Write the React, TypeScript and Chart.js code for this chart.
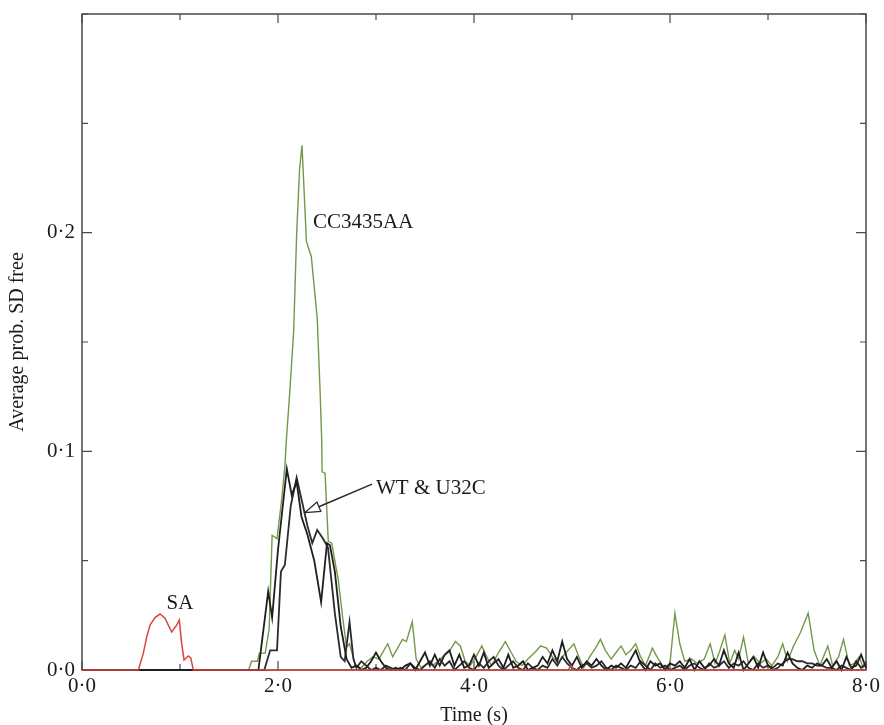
import React, { useEffect, useRef } from 'react';
import { Chart, registerables } from 'chart.js';

Chart.register(...registerables);

// [time (s), average probability]
const saPoints: [number, number][] = [
  [0, 0], [0.575, 0], [0.626, 0.0077], [0.66, 0.015], [0.694, 0.0205], [0.745, 0.024], [0.796, 0.0256],
  [0.847, 0.0237], [0.915, 0.0174], [0.966, 0.0205], [0.993, 0.0228], [1.017, 0.0122], [1.041, 0.0046],
  [1.085, 0.0064], [1.11, 0.0055], [1.136, 0], [4.96, 0], [4.99, 0.002], [5.02, 0], [8.0, 0],
];

const cc3435aaPoints: [number, number][] = [
  [0, 0], [1.70, 0], [1.73, 0.004], [1.79, 0.004], [1.81, 0.0077], [1.87, 0.0077], [1.91, 0.019],
  [1.94, 0.0616], [1.99, 0.060], [2.04, 0.079], [2.07, 0.093], [2.085, 0.105], [2.12, 0.127], [2.16, 0.155],
  [2.19, 0.199], [2.22, 0.229], [2.245, 0.240], [2.29, 0.196], [2.34, 0.189], [2.40, 0.161], [2.43, 0.127],
  [2.446, 0.105], [2.45, 0.0906], [2.48, 0.090], [2.513, 0.059], [2.548, 0.058], [2.616, 0.041], [2.66, 0.024],
  [2.70, 0.0105], [2.73, 0.012], [2.79, 0.002], [2.85, 0.001], [2.91, 0.004], [2.97, 0.006], [3.03, 0.005],
  [3.08, 0.009], [3.12, 0.012], [3.17, 0.006], [3.22, 0.010], [3.27, 0.014], [3.31, 0.013], [3.37, 0.022],
  [3.41, 0.005], [3.46, 0.001], [3.52, 0.003], [3.58, 0.002], [3.63, 0.004], [3.68, 0.006], [3.74, 0.008],
  [3.81, 0.013], [3.86, 0.011], [3.91, 0.004], [3.96, 0.002], [4.02, 0.006], [4.08, 0.011], [4.13, 0.006],
  [4.18, 0.002], [4.25, 0.008], [4.32, 0.013], [4.38, 0.008], [4.43, 0.004], [4.49, 0.002], [4.55, 0.005],
  [4.62, 0.008], [4.68, 0.011], [4.74, 0.010], [4.80, 0.006], [4.86, 0.003], [4.92, 0.007], [4.98, 0.010],
  [5.02, 0.012], [5.07, 0.006], [5.12, 0.001], [5.18, 0.006], [5.24, 0.010], [5.29, 0.014], [5.34, 0.009],
  [5.40, 0.005], [5.45, 0.008], [5.50, 0.011], [5.55, 0.007], [5.60, 0.009], [5.65, 0.012], [5.70, 0.006],
  [5.75, 0.002], [5.82, 0.010], [5.88, 0.005], [5.94, 0.001], [6.00, 0.003], [6.05, 0.026], [6.10, 0.012],
  [6.15, 0.004], [6.22, 0.005], [6.28, 0.003], [6.35, 0.005], [6.41, 0.012], [6.46, 0.003], [6.51, 0.009],
  [6.56, 0.016], [6.61, 0.003], [6.66, 0.009], [6.70, 0.005], [6.75, 0.015], [6.80, 0.003], [6.86, 0.006],
  [6.92, 0.003], [6.98, 0.005], [7.04, 0.002], [7.10, 0.006], [7.15, 0.012], [7.20, 0.004], [7.26, 0.011],
  [7.33, 0.017], [7.41, 0.026], [7.47, 0.009], [7.53, 0.002], [7.61, 0.011], [7.66, 0.002], [7.72, 0.006],
  [7.77, 0.014], [7.83, 0.002], [7.88, 0.003], [7.93, 0.006], [7.97, 0.001], [8.00, 0.003],
];

const wtPoints: [number, number][] = [
  [0, 0], [1.80, 0], [1.90, 0.036], [1.94, 0.024], [2.00, 0.055], [2.09, 0.092], [2.14, 0.080], [2.19, 0.086],
  [2.24, 0.070], [2.30, 0.062], [2.37, 0.050], [2.44, 0.031], [2.50, 0.058], [2.53, 0.057], [2.58, 0.045],
  [2.64, 0.020], [2.70, 0.005], [2.75, 0.001],
  [2.80, 0.002], [2.85, 0.000], [2.90, 0.001], [2.95, 0.004], [3.00, 0.008], [3.05, 0.004], [3.10, 0.001],
  [3.15, 0.000], [3.20, 0.001], [3.25, 0.000], [3.30, 0.002], [3.35, 0.003], [3.40, 0.000], [3.45, 0.004],
  [3.50, 0.008], [3.55, 0.002], [3.60, 0.007], [3.65, 0.002], [3.70, 0.007], [3.75, 0.009], [3.80, 0.002],
  [3.85, 0.007], [3.90, 0.001], [3.95, 0.002], [4.00, 0.007], [4.05, 0.002], [4.10, 0.008], [4.15, 0.001],
  [4.20, 0.003], [4.25, 0.005], [4.30, 0.001], [4.35, 0.007], [4.40, 0.001], [4.45, 0.002], [4.50, 0.004],
  [4.55, 0.000], [4.60, 0.001], [4.65, 0.002], [4.70, 0.006], [4.75, 0.003], [4.80, 0.009], [4.85, 0.004],
  [4.90, 0.013], [4.95, 0.005], [5.00, 0.002], [5.05, 0.006], [5.10, 0.001], [5.15, 0.004], [5.20, 0.002],
  [5.25, 0.005], [5.30, 0.002], [5.35, 0.000], [5.40, 0.002], [5.45, 0.001], [5.50, 0.003], [5.55, 0.001],
  [5.60, 0.005], [5.65, 0.009], [5.70, 0.003], [5.75, 0.000], [5.80, 0.004], [5.85, 0.002], [5.90, 0.003],
  [5.95, 0.000], [6.00, 0.003], [6.05, 0.002], [6.10, 0.004], [6.15, 0.001], [6.20, 0.005], [6.25, 0.000],
  [6.30, 0.004], [6.35, 0.001], [6.40, 0.002], [6.45, 0.005], [6.50, 0.002], [6.55, 0.009], [6.60, 0.003],
  [6.65, 0.001], [6.70, 0.008], [6.75, 0.000], [6.80, 0.003], [6.85, 0.006], [6.90, 0.001], [6.95, 0.008],
  [7.00, 0.002], [7.05, 0.001], [7.10, 0.003], [7.15, 0.002], [7.20, 0.008], [7.25, 0.003], [7.30, 0.001],
  [7.35, 0.000], [7.40, 0.002], [7.45, 0.001], [7.50, 0.003], [7.55, 0.002], [7.60, 0.005], [7.65, 0.001],
  [7.70, 0.004], [7.75, 0.000], [7.80, 0.006], [7.85, 0.001], [7.90, 0.002], [7.95, 0.007], [8.00, 0.001],
];

const u32cPoints: [number, number][] = [
  [0, 0], [1.86, 0], [1.92, 0.009], [1.99, 0.009], [2.03, 0.045], [2.07, 0.048], [2.13, 0.075], [2.19, 0.088],
  [2.25, 0.076], [2.30, 0.066], [2.35, 0.058], [2.40, 0.064], [2.46, 0.060], [2.51, 0.056], [2.58, 0.026],
  [2.64, 0.006], [2.68, 0.004], [2.73, 0.022], [2.77, 0.005],
  [2.80, 0.001], [2.85, 0.004], [2.90, 0.002], [2.95, 0.000], [3.00, 0.001], [3.05, 0.000], [3.10, 0.002],
  [3.15, 0.001], [3.20, 0.000], [3.25, 0.001], [3.30, 0.000], [3.35, 0.003], [3.40, 0.001], [3.45, 0.000],
  [3.50, 0.002], [3.55, 0.004], [3.60, 0.001], [3.65, 0.005], [3.70, 0.002], [3.75, 0.004], [3.80, 0.000],
  [3.85, 0.002], [3.90, 0.004], [3.95, 0.001], [4.00, 0.000], [4.05, 0.003], [4.10, 0.001], [4.15, 0.004],
  [4.20, 0.006], [4.25, 0.002], [4.30, 0.000], [4.35, 0.002], [4.40, 0.004], [4.45, 0.001], [4.50, 0.000],
  [4.55, 0.003], [4.60, 0.001], [4.65, 0.000], [4.70, 0.002], [4.75, 0.001], [4.80, 0.005], [4.85, 0.002],
  [4.90, 0.006], [4.95, 0.003], [5.00, 0.001], [5.05, 0.000], [5.10, 0.002], [5.15, 0.003], [5.20, 0.001],
  [5.25, 0.002], [5.30, 0.004], [5.35, 0.001], [5.40, 0.000], [5.45, 0.002], [5.50, 0.001], [5.55, 0.000],
  [5.60, 0.002], [5.65, 0.001], [5.70, 0.004], [5.75, 0.002], [5.80, 0.000], [5.85, 0.003], [5.90, 0.001],
  [5.95, 0.002], [6.00, 0.000], [6.05, 0.001], [6.10, 0.002], [6.15, 0.000], [6.20, 0.002], [6.25, 0.003],
  [6.30, 0.001], [6.35, 0.000], [6.40, 0.003], [6.45, 0.001], [6.50, 0.002], [6.55, 0.004], [6.60, 0.001],
  [6.65, 0.003], [6.70, 0.002], [6.75, 0.004], [6.80, 0.001], [6.85, 0.000], [6.90, 0.003], [6.95, 0.001],
  [7.00, 0.002], [7.05, 0.000], [7.10, 0.001], [7.15, 0.003], [7.20, 0.005], [7.25, 0.005], [7.30, 0.004],
  [7.35, 0.004], [7.40, 0.003], [7.45, 0.003], [7.50, 0.002], [7.55, 0.002], [7.60, 0.001], [7.65, 0.001],
  [7.70, 0.000], [7.75, 0.002], [7.80, 0.001], [7.85, 0.000], [7.90, 0.004], [7.95, 0.001], [8.00, 0.003],
];

const xTickMarks = [0, 1, 2, 3, 4, 5, 6, 7, 8];
const xLabelled = [0, 2, 4, 6, 8];
const yTickMarks = [0, 0.05, 0.1, 0.15, 0.2, 0.25, 0.3];
const yLabelled = [0, 0.1, 0.2];

const annotationTexts = ['CC3435AA', 'SA', 'WT & U32C'];
const annotationX = [2.357, 1.0, 3.0];
const annotationY = [0.2046, 0.0306, 0.083];
const annotationAlign: CanvasTextAlign[] = ['left', 'center', 'left'];
const arrowFrom: [number, number] = [2.96, 0.085];
const arrowTo: [number, number] = [2.276, 0.072];

const fmt = (v: number) => v.toFixed(1).replace('.', '\u00B7');
const toXY = (pts: [number, number][]) => pts.map(([x, y]) => ({ x, y }));
const FONT = '"Liberation Serif", "Times New Roman", serif';

const framePlugin = {
  id: 'frameAndNotes',
  beforeDatasetsDraw(chart: any) {
    const { ctx, chartArea: a, scales } = chart;
    const xs = scales.x;
    const ys = scales.y;
    ctx.save();
    ctx.strokeStyle = '#4a4a4a';
    ctx.lineWidth = 1.5;
    ctx.strokeRect(a.left, a.top, a.right - a.left, a.bottom - a.top);
    ctx.lineWidth = 1.2;
    ctx.beginPath();
    xTickMarks.forEach((v) => {
      const px = xs.getPixelForValue(v);
      const len = xLabelled.includes(v) ? 9 : 6;
      ctx.moveTo(px, a.bottom);
      ctx.lineTo(px, a.bottom - len);
      ctx.moveTo(px, a.top);
      ctx.lineTo(px, a.top + len);
    });
    yTickMarks.forEach((v) => {
      const py = ys.getPixelForValue(v);
      const len = yLabelled.some((l) => Math.abs(l - v) < 1e-9) ? 10 : 6;
      ctx.moveTo(a.left, py);
      ctx.lineTo(a.left + len, py);
      ctx.moveTo(a.right, py);
      ctx.lineTo(a.right - len, py);
    });
    ctx.stroke();
    ctx.restore();
  },
  afterDatasetsDraw(chart: any) {
    const { ctx, scales } = chart;
    const xs = scales.x;
    const ys = scales.y;
    ctx.save();
    ctx.fillStyle = '#1a1a1a';
    ctx.font = `21px ${FONT}`;
    ctx.textBaseline = 'middle';
    annotationTexts.forEach((t, i) => {
      ctx.textAlign = annotationAlign[i];
      ctx.fillText(t, xs.getPixelForValue(annotationX[i]), ys.getPixelForValue(annotationY[i]));
    });

    // arrow
    const x1 = xs.getPixelForValue(arrowFrom[0]);
    const y1 = ys.getPixelForValue(arrowFrom[1]);
    const x2 = xs.getPixelForValue(arrowTo[0]);
    const y2 = ys.getPixelForValue(arrowTo[1]);
    const ang = Math.atan2(y2 - y1, x2 - x1);
    const hl = 15;
    const hw = 5;
    const bx = x2 - hl * Math.cos(ang);
    const by = y2 - hl * Math.sin(ang);
    ctx.strokeStyle = '#2a2a2a';
    ctx.lineWidth = 1.6;
    ctx.beginPath();
    ctx.moveTo(x1, y1);
    ctx.lineTo(bx, by);
    ctx.stroke();
    ctx.beginPath();
    ctx.moveTo(x2, y2);
    ctx.lineTo(bx + hw * Math.sin(ang), by - hw * Math.cos(ang));
    ctx.lineTo(bx - hw * Math.sin(ang), by + hw * Math.cos(ang));
    ctx.closePath();
    ctx.fillStyle = '#ffffff';
    ctx.fill();
    ctx.lineWidth = 1.3;
    ctx.stroke();
    ctx.restore();
  },
};

export default function App() {
  const ref = useRef<HTMLCanvasElement | null>(null);
  useEffect(() => {
    if (!ref.current) return;
    Chart.defaults.font.family = FONT;
    const chart = new Chart(ref.current, {
      type: 'line',
      data: {
        datasets: [
          { label: 'SA', data: toXY(saPoints), borderColor: '#d8463f', borderWidth: 1.5, clip: 3 },
          { label: 'WT', data: toXY(wtPoints), borderColor: '#1e1e1e', borderWidth: 1.8, clip: 3 },
          { label: 'U32C', data: toXY(u32cPoints), borderColor: '#2b2b2b', borderWidth: 1.8, clip: 3 },
          { label: 'CC3435AA', data: toXY(cc3435aaPoints), borderColor: '#74984a', borderWidth: 1.4, clip: 3 },
        ],
      },
      options: {
        responsive: false,
        animation: false,
        elements: { point: { radius: 0 }, line: { tension: 0 } },
        layout: { padding: { left: 0, right: 17, top: 14, bottom: 0 } },
        plugins: { legend: { display: false }, tooltip: { enabled: false } },
        scales: {
          x: {
            type: 'linear',
            min: 0,
            max: 8,
            grid: { display: false, drawTicks: false },
            border: { display: false },
            ticks: {
              stepSize: 2,
              padding: 4,
              color: '#1a1a1a',
              font: { size: 21 },
              callback: (v: any) => fmt(Number(v)),
            },
            title: {
              display: true,
              text: 'Time (s)',
              color: '#1a1a1a',
              font: { size: 20 },
              padding: { top: 0, bottom: -3 },
            },
            afterFit: (s: any) => { s.height = 55; },
          },
          y: {
            type: 'linear',
            min: 0,
            max: 0.3,
            grid: { display: false, drawTicks: false },
            border: { display: false },
            ticks: {
              stepSize: 0.1,
              padding: 7,
              color: '#1a1a1a',
              font: { size: 21 },
              callback: (v: any) => {
                const n = Number(v);
                return yLabelled.some((l) => Math.abs(l - n) < 1e-9) ? fmt(n) : '';
              },
            },
            title: {
              display: true,
              text: 'Average prob. SD free',
              color: '#1a1a1a',
              font: { size: 20 },
              padding: { top: 6, bottom: 0 },
            },
            afterFit: (s: any) => {
              s.width = 82;
              s.paddingTop = 0;
              s.paddingBottom = 0;
            },
          },
        },
      },
      plugins: [framePlugin],
    });
    return () => chart.destroy();
  }, []);
  return (
    <div style={{ position: 'absolute', left: 0, top: 0, width: 884, height: 725, background: '#fff' }}>
      <canvas ref={ref} width={884} height={725} />
    </div>
  );
}
